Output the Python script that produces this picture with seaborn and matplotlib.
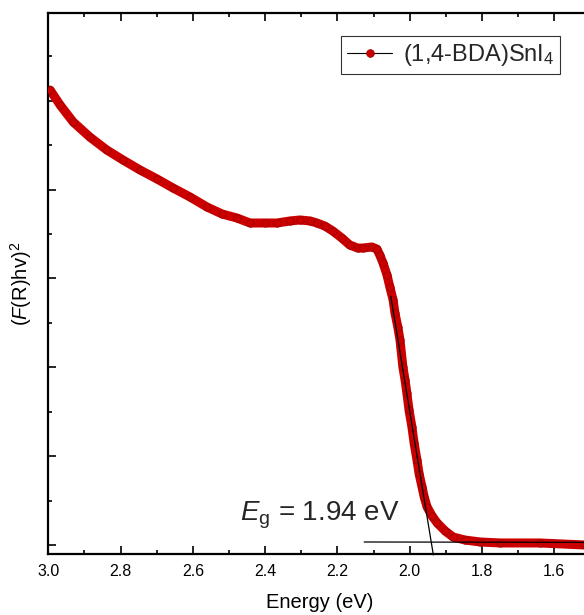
import matplotlib
matplotlib.use("Agg")
import matplotlib.pyplot as plt
from matplotlib.lines import Line2D
from matplotlib.ticker import MultipleLocator
import seaborn as sns
import pandas as pd

# ---- data ----
energy = [2.995, 2.967, 2.931, 2.885, 2.838, 2.793, 2.746, 2.699, 2.655, 2.608,
          2.561, 2.519, 2.478, 2.442, 2.400, 2.367, 2.331, 2.304, 2.276, 2.257,
          2.235, 2.213, 2.188, 2.166, 2.144, 2.130, 2.105, 2.091, 2.083, 2.074,
          2.063, 2.055, 2.046, 2.041, 2.033, 2.027, 2.019, 2.013, 2.008, 2.002,
          1.994, 1.988, 1.980, 1.974, 1.966, 1.960, 1.952, 1.938, 1.924, 1.902,
          1.880, 1.847, 1.805, 1.750, 1.640, 1.515]
signal = [5.120, 4.950, 4.760, 4.591, 4.445, 4.332, 4.220, 4.119, 4.018, 3.917,
          3.804, 3.725, 3.680, 3.624, 3.624, 3.624, 3.647, 3.658, 3.647, 3.624,
          3.590, 3.534, 3.455, 3.376, 3.342, 3.342, 3.354, 3.331, 3.264, 3.174,
          3.039, 2.903, 2.757, 2.611, 2.453, 2.307, 2.003, 1.857, 1.711, 1.519,
          1.328, 1.148, 0.957, 0.799, 0.653, 0.540, 0.428, 0.326, 0.248, 0.158,
          0.090, 0.056, 0.034, 0.023, 0.023, 0.000]

tangent_x = [2.0526, 1.9347]
tangent_y = [2.802, -0.112]
baseline_x = [2.126, 1.45]
baseline_y = [0.034, 0.030]

series_label = "(1,4-BDA)SnI$_4$"
gap_text = "$E$$_\\mathrm{g}$ = 1.94 eV"
gap_pos = (2.4696, 0.281)

# ---- style ----
sns.set_theme(style="white")
plt.rcParams["font.family"] = ["Liberation Sans", "DejaVu Sans"]
plt.rcParams["mathtext.fontset"] = "custom"
plt.rcParams["mathtext.rm"] = "Liberation Sans"
plt.rcParams["mathtext.it"] = "Liberation Sans:italic"
plt.rcParams["mathtext.bf"] = "Liberation Sans:bold"

red = "#CC0000"
dark_red = "#990000"

df = pd.DataFrame({"energy": energy, "signal": signal})

fig = plt.figure(figsize=(5.84, 6.15), dpi=100)
ax = fig.add_axes([0.0827, 0.0992, 0.9284, 0.8792])

sns.lineplot(data=df, x="energy", y="signal", ax=ax, sort=False, estimator=None,
             color=red, linewidth=6.5, zorder=2, legend=False)
sns.scatterplot(data=df, x="energy", y="signal", ax=ax, color=red,
                edgecolor=dark_red, linewidth=0.5, s=28, zorder=3, legend=False)

ax.plot(tangent_x, tangent_y, color="black", lw=0.9, zorder=4, clip_on=False)
ax.plot(baseline_x, baseline_y, color="black", lw=0.9, zorder=4)

ax.text(gap_pos[0], gap_pos[1], gap_text, fontsize=20, ha="left", va="baseline")

ax.set_xlim(3.0, 1.5)
ax.set_ylim(-0.101, 5.984)
ax.xaxis.set_major_locator(MultipleLocator(0.2))
ax.xaxis.set_minor_locator(MultipleLocator(0.1))
ax.yaxis.set_major_locator(MultipleLocator(1.0))
ax.yaxis.set_minor_locator(MultipleLocator(0.5))
ax.set_yticklabels([])
ax.xaxis.set_major_formatter(matplotlib.ticker.FormatStrFormatter("%.1f"))

ax.tick_params(which="both", direction="in", top=True, bottom=True, left=True,
               right=False, color="black", width=1.2)
ax.tick_params(which="major", length=6)
ax.tick_params(which="minor", length=3)
ax.tick_params(axis="x", labelsize=11.5, pad=7, labelcolor="black")

for s in ax.spines.values():
    s.set_color("black")
    s.set_linewidth(1.6)

ax.set_xlabel("Energy (eV)", fontsize=14.5, color="black", labelpad=10)
ax.set_ylabel("($\\mathit{F}$(R)hv)$^2$", fontsize=14.5, color="black", labelpad=7)

handle = Line2D([], [], color="black", lw=0.8, marker="o", markersize=5.5,
                markerfacecolor=red, markeredgecolor=dark_red, markeredgewidth=0.6)
leg = ax.legend(handles=[handle], labels=[series_label], loc="upper right",
                bbox_to_anchor=(560 / 584, 1 - 36 / 615), bbox_transform=fig.transFigure,
                fontsize=17, frameon=True, fancybox=False, borderpad=0.25,
                handlelength=1.9, handletextpad=0.45, borderaxespad=0)
leg.get_frame().set_edgecolor("black")
leg.get_frame().set_linewidth(0.8)

fig.savefig("out.png", dpi=100)
